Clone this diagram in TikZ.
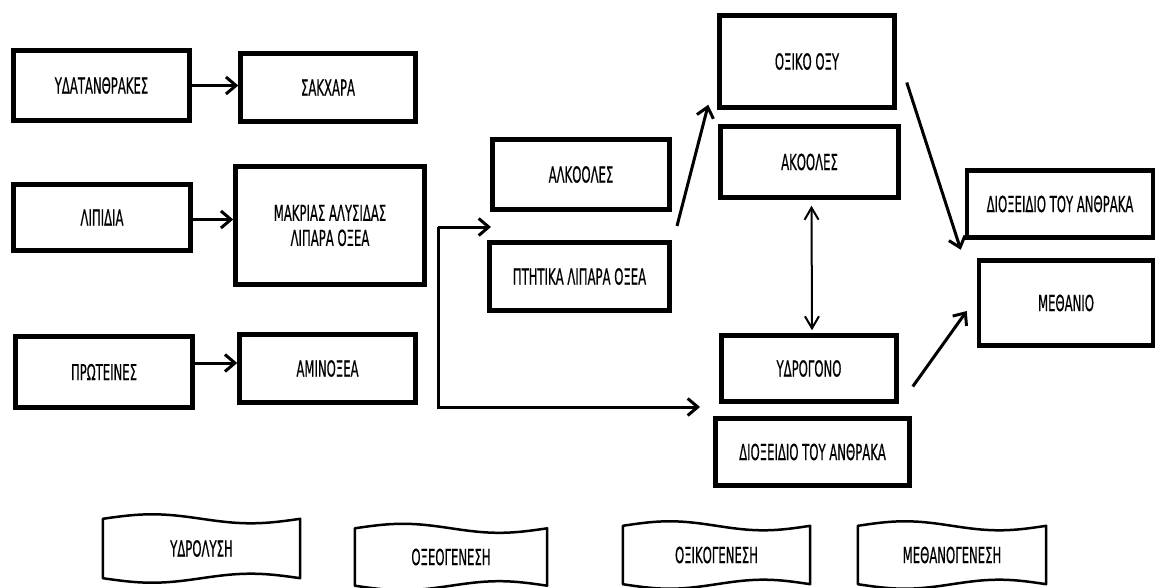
\documentclass[tikz,border=0pt]{standalone}
\usepackage{fontspec}
\setmainfont{DejaVu Sans}[FakeStretch=0.53,FakeBold=0.5]
\usepackage{tikz}
\usetikzlibrary{positioning,arrows.meta,calc}

\begin{document}
\begin{tikzpicture}[
  x=1pt, y=-1pt,
  kouti/.style={rectangle, draw, line width=4.5pt, align=center, inner sep=0pt,
    font=\fontsize{22}{25}\selectfont},
  tainia/.style={rectangle, inner sep=0pt, font=\fontsize{22}{25}\selectfont},
  kyma/.style={line width=2.5pt, line join=round},
  velos/.style={line width=3pt, -{Straight Barb[length=10pt,width=17pt]}},
  diplo/.style={line width=2pt, {Straight Barb[length=12pt,width=14pt]}-{Straight Barb[length=12pt,width=14pt]}}
]
  \useasboundingbox (0,0) rectangle (1156,588);

  % prwth sthlh
  \node[kouti, minimum width=176pt, minimum height=70pt] (ydat)  at (101.5,85.5) {ΥΔΑΤΑΝΘΡΑΚΕΣ};
  \node[kouti, minimum width=177pt, minimum height=66pt] (lipid) at (102,217.5)  {ΛΙΠΙΔΙΑ};
  \node[kouti, minimum width=177pt, minimum height=71pt] (prot)  at (104,372)    {ΠΡΩΤΕΙΝΕΣ};

  % deuterh sthlh
  \node[kouti, minimum width=175pt, minimum height=68pt]  (sakx) at (328,87.5)  {ΣΑΚΧΑΡΑ};
  \node[kouti, minimum width=189pt, minimum height=118pt] (makr) at (330,225.5) {ΜΑΚΡΙΑΣ ΑΛΥΣΙΔΑΣ\\ΛΙΠΑΡΑ ΟΞΕΑ};
  \node[kouti, minimum width=176pt, minimum height=68pt]  (amin) at (327.5,368.5) {ΑΜΙΝΟΞΕΑ};

  % trith sthlh
  \node[kouti, minimum width=177pt, minimum height=70pt] (alk)  at (581,174.5)   {ΑΛΚΟΟΛΕΣ};
  \node[kouti, minimum width=180pt, minimum height=68pt] (ptit) at (579.5,276.5) {ΠΤΗΤΙΚΑ ΛΙΠΑΡΑ ΟΞΕΑ};

  % tetarth sthlh
  \node[kouti, minimum width=175pt, minimum height=92pt] (oxik)  at (807,61.5)  {ΟΞΙΚΟ ΟΞΥ};
  \node[kouti, minimum width=178pt, minimum height=71pt] (akool) at (809.5,162) {ΑΚΟΟΛΕΣ};
  \node[kouti, minimum width=175pt, minimum height=66pt] (ydrog) at (809,368.5) {ΥΔΡΟΓΟΝΟ};
  \node[kouti, minimum width=194pt, minimum height=67pt] (dioxA) at (812.5,452) {ΔΙΟΞΕΙΔΙΟ ΤΟΥ ΑΝΘΡΑΚΑ};

  % pempth sthlh
  \node[kouti, minimum width=186pt, minimum height=67pt] (dioxB) at (1060,204) {ΔΙΟΞΕΙΔΙΟ ΤΟΥ ΑΝΘΡΑΚΑ};
  \node[kouti, minimum width=174pt, minimum height=85pt] (meth)  at (1066,303) {ΜΕΘΑΝΙΟ};

  % stadia
  \node[tainia, minimum width=197pt, minimum height=59pt] (ydrol)  at (201.5,548.5) {ΥΔΡΟΛΥΣΗ};
  \node[tainia, minimum width=192pt, minimum height=57pt] (oxeo)   at (451,557)     {ΟΞΕΟΓΕΝΕΣΗ};
  \node[tainia, minimum width=187pt, minimum height=58pt] (oxikog) at (716.5,555)   {ΟΞΙΚΟΓΕΝΕΣΗ};
  \node[tainia, minimum width=188pt, minimum height=58pt] (methog) at (952,555)     {ΜΕΘΑΝΟΓΕΝΕΣΗ};
  \foreach \n in {ydrol,oxeo,oxikog,methog}
    \draw[kyma] (\n.north west)
      sin ($(\n.north west)!0.25!(\n.north east)+(0,-4.5)$)
      cos ($(\n.north west)!0.5!(\n.north east)$)
      sin ($(\n.north west)!0.75!(\n.north east)+(0,4.5)$)
      cos (\n.north east) -- (\n.south east)
      sin ($(\n.south east)!0.25!(\n.south west)+(0,-4.5)$)
      cos ($(\n.south east)!0.5!(\n.south west)$)
      sin ($(\n.south east)!0.75!(\n.south west)+(0,4.5)$)
      cos (\n.south west) -- cycle;

  % velh
  \draw[velos] (ydat.east) -- (ydat.east -| sakx.west);
  \draw[velos] ([yshift=-2pt]lipid.east) -- ([yshift=-2pt]lipid.east -| makr.west);
  \draw[velos] ([yshift=9pt]prot.east) -- ([yshift=9pt]prot.east -| amin.west);

  \coordinate (fork)     at (438,227);
  \coordinate (toAcid)   at (491,227);
  \coordinate (toGas)    at (700,407);
  \coordinate (fromAcid) at (677,226);
  \draw[velos] (fork) -- (toAcid);
  \draw[velos] (fork) |- (toGas);

  \draw[velos] (fromAcid) -- ([xshift=-9pt,yshift=5pt]oxik.south west);
  \draw[velos] ([xshift=10pt,yshift=-21pt]oxik.east) -- ([xshift=-4pt,yshift=-10pt]dioxB.south west);
  \draw[velos] ([xshift=14pt,yshift=-18pt]ydrog.east) -- ([xshift=-10pt,yshift=-8pt]meth.west);
  \draw[diplo] ([xshift=2pt,yshift=-6pt]akool.south) -- ([xshift=3pt,yshift=3pt]ydrog.north);
\end{tikzpicture}
\end{document}
